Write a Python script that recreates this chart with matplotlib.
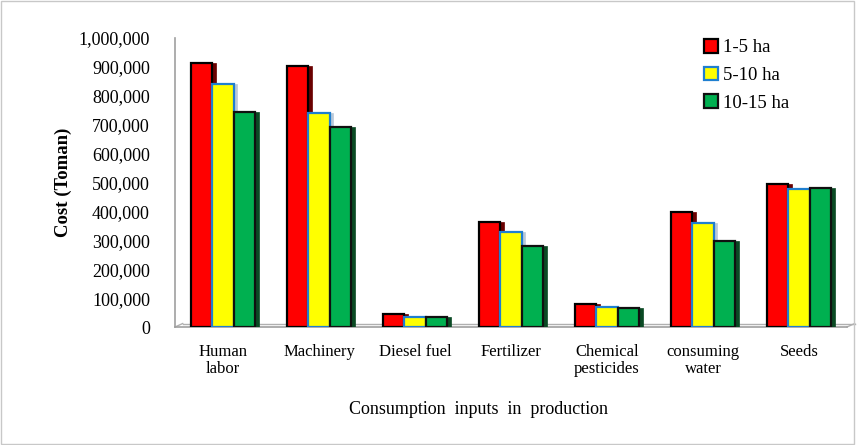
import matplotlib
matplotlib.use("Agg")
import matplotlib.pyplot as plt
import numpy as np
from matplotlib.patches import Rectangle
from matplotlib.ticker import FuncFormatter

categories = ["Human\nlabor", "Machinery", "Diesel fuel", "Fertilizer",
              "Chemical\npesticides", "consuming\nwater", "Seeds"]
series_names = ["1-5 ha", "5-10 ha", "10-15 ha"]
v_1_5 = [915000, 904000, 45000, 364000, 80000, 397000, 495000]
v_5_10 = [841000, 741000, 36000, 327000, 70000, 361000, 477000]
v_10_15 = [745000, 691000, 33000, 281000, 65000, 298000, 480000]
yticks = list(range(0, 1000001, 100000))

plt.rcParams['font.family'] = ['Liberation Serif', 'DejaVu Serif']

fig = plt.figure(figsize=(8.58, 4.45), dpi=100)
ax = fig.add_axes([175/858, 118/445, 672/858, 289/445])

faces = ["#ff0000", "#ffff00", "#00b050"]
edges = ["#000000", "#1f7fd0", "#101010"]
sides = ["#6a0000", "#b9c9d9", "#0a4a24"]
width = 0.225
x = np.arange(len(categories))
series = [v_1_5, v_5_10, v_10_15]

dx = 0.035
for k, vals in enumerate(series):
    xs = x + (k - 1) * width
    ax.bar(xs + dx, np.array(vals), width=width, bottom=0, color=sides[k],
           edgecolor=sides[k], linewidth=0.5, zorder=2 + k * 2)
    ax.bar(xs, vals, width=width, color=faces[k], edgecolor=edges[k],
           linewidth=1.6, zorder=3 + k * 2, label=series_names[k])

ax.set_xlim(-0.5, 6.5)
ax.set_ylim(0, 1000000)
ax.set_yticks(yticks)
ax.yaxis.set_major_formatter(FuncFormatter(lambda v, p: f"{int(v):,}"))
ax.set_xticks(x)
ax.set_xticklabels(categories, fontsize=12, linespacing=1.1)
ax.tick_params(axis='y', labelsize=13, length=0, pad=18)
ax.tick_params(axis='x', length=0, pad=12)

for s in ["top", "right"]:
    ax.spines[s].set_visible(False)
ax.spines["left"].set_color("#a0a0a0")
ax.spines["bottom"].set_color("#a0a0a0")
ax.spines["left"].set_linewidth(1.2)
ax.spines["bottom"].set_linewidth(1.2)
ax.plot([-0.42, 6.58], [12000, 12000], color="#b0b0b0", lw=1.0,
        clip_on=False, zorder=1)
ax.plot([-0.5, -0.42], [0, 12000], color="#b0b0b0", lw=1.0, clip_on=False, zorder=1)
ax.plot([6.5, 6.58], [0, 12000], color="#b0b0b0", lw=1.0, clip_on=False, zorder=1)

ax.set_ylabel("Cost (Toman)", fontsize=13.5, fontweight="bold", labelpad=5)
ax.set_xlabel("Consumption  inputs  in  production", fontsize=13)
ax.xaxis.set_label_coords(0.451, -0.255)

handles, labels = ax.get_legend_handles_labels()
ax.legend(handles, labels, loc="upper left",
          bbox_to_anchor=(0.762, 1.055), frameon=False, fontsize=13.5,
          handlelength=0.75, handleheight=0.75, labelspacing=0.55,
          handletextpad=0.25)

fig.patches.append(Rectangle((0.001, 0.003), 853/858, 0.994, transform=fig.transFigure,
                             fill=False, edgecolor="#c8c8c8", lw=1.0))

fig.savefig("out.png", dpi=100)
